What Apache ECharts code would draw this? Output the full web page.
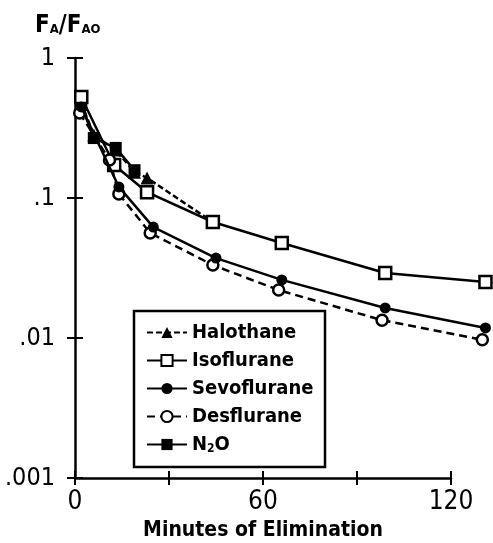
<!DOCTYPE html>
<html><head><meta charset="utf-8">
<script src="https://cdn.jsdelivr.net/npm/echarts@6/dist/echarts.min.js"></script>
<style>html,body{margin:0;padding:0;background:#fff}#c{width:493px;height:543px}</style>
</head><body><div id="c"></div>
<script>
const FONT = '"Liberation Sans Narrow","DejaVu Sans Condensed","Roboto Condensed",sans-serif';

const seriesNames = ['Halothane', 'Isoflurane', 'Sevoflurane', 'Desflurane', 'N2O'];

const halothaneT = [2, 6, 13, 19, 23, 44];
const halothaneV = [0.477, 0.282, 0.22, 0.153, 0.139, 0.0674];

const isofluraneT = [2, 12.5, 23, 44, 66, 99, 131];
const isofluraneV = [0.526, 0.172, 0.11, 0.0674, 0.0477, 0.0291, 0.0251];

const sevofluraneT = [2, 14, 25, 45, 66, 99, 131];
const sevofluraneV = [0.447, 0.12, 0.062, 0.0372, 0.026, 0.0164, 0.0118];

const desfluraneT = [1.5, 11, 14, 24, 44, 65, 98, 130];
const desfluraneV = [0.405, 0.187, 0.107, 0.0562, 0.0332, 0.022, 0.0134, 0.0097];

const n2oT = [2, 6, 13, 19];
const n2oV = [0.462, 0.268, 0.228, 0.158];

const yTickLabels = {1: '1', 0.1: '.1', 0.01: '.01', 0.001: '.001'};
const xTickLabels = {0: '0', 60: '60', 120: '120'};
const xAxisMax = 120;      // drawn axis end
const xDataMax = 132;      // data extends past the drawn axis end

function pairs(t, v) { return t.map((x, i) => [x, v[i]]); }

const chart = echarts.init(document.getElementById('c'), null, {renderer: 'canvas'});

const LEFT = 75, TOP = 58, BOTTOM = 65, AXIS_W = 376;
const DATA_W = AXIS_W * xDataMax / xAxisMax;

const lineBase = {type: 'line', clip: false, xAxisIndex: 2, yAxisIndex: 2, animation: false};

const halData = pairs(halothaneT, halothaneV);
halData[halData.length - 1] = {value: halData[halData.length - 1], symbol: 'none'};

const yLabelFmt = v => { const k = Object.keys(yTickLabels).find(key => Math.abs(Number(key) - v) < v * 1e-6); return k !== undefined ? yTickLabels[k] : ''; };

const option = {
  backgroundColor: '#fff',
  animation: false,
  grid: [
    {left: LEFT, top: TOP, bottom: BOTTOM, width: AXIS_W, containLabel: false, outerBoundsMode: 'none'},
    {left: LEFT, top: TOP, bottom: BOTTOM, width: DATA_W, containLabel: false, outerBoundsMode: 'none'}
  ],
  xAxis: [{
    gridIndex: 0, type: 'value', min: 0, max: xAxisMax, interval: 30,
    axisLine: {show: true, onZero: false, lineStyle: {color: '#000', width: 2.5}},
    axisTick: {show: true, length: 7, lineStyle: {color: '#000', width: 2}},
    splitLine: {show: false},
    axisLabel: {color: '#000', fontFamily: FONT, fontSize: 26, margin: 11,
      formatter: v => xTickLabels[v] !== undefined ? xTickLabels[v] : ''},
    name: 'Minutes of Elimination', nameLocation: 'middle', nameGap: 42,
    nameTextStyle: {color: '#000', fontFamily: FONT, fontSize: 21, fontWeight: 'bold'}
  }, {
    gridIndex: 0, type: 'value', min: 0, max: xAxisMax, interval: 30, position: 'bottom',
    axisLine: {show: false},
    axisTick: {show: true, inside: true, length: 7, lineStyle: {color: '#000', width: 2}},
    axisLabel: {show: false}, splitLine: {show: false}
  }, {
    gridIndex: 1, type: 'value', min: 0, max: xDataMax, show: false
  }],
  yAxis: [{
    gridIndex: 0, type: 'log', logBase: 10, min: 0.001, max: 1,
    axisLine: {show: true, onZero: false, lineStyle: {color: '#000', width: 2.5}},
    axisTick: {show: true, length: 8, lineStyle: {color: '#000', width: 2}},
    minorTick: {show: false},
    splitLine: {show: false},
    axisLabel: {color: '#000', fontFamily: FONT, fontSize: 25, margin: 20, formatter: yLabelFmt}
  }, {
    gridIndex: 0, type: 'log', logBase: 10, min: 0.001, max: 1, position: 'left',
    axisLine: {show: false},
    axisTick: {show: true, inside: true, length: 8, lineStyle: {color: '#000', width: 2}},
    axisLabel: {show: false}, splitLine: {show: false}
  }, {
    gridIndex: 1, type: 'log', logBase: 10, min: 0.001, max: 1, show: false
  }],
  legend: {
    orient: 'vertical', left: 146, top: 322,
    itemWidth: 40, itemHeight: 14, itemGap: 7, padding: 0,
    data: seriesNames,
    textStyle: {color: '#000', fontFamily: FONT, fontSize: 20, fontWeight: 'bold', lineHeight: 21,
      rich: {sub: {fontSize: 12, fontFamily: FONT, fontWeight: 'bold', color: '#000', verticalAlign: 'bottom', lineHeight: 21}}},
    formatter: n => n === 'N2O' ? 'N{sub|2}O' : n
  },
  graphic: [
    {type: 'rect', shape: {x: 134, y: 311, width: 191, height: 156}, style: {fill: null, stroke: '#000', lineWidth: 2.5}, z: 100},
    {type: 'text', left: 35, top: 14, style: {
      text: '{b|F}{s|A}{b|/F}{s|AO}',
      rich: {
        b: {fontFamily: FONT, fontSize: 24, fontWeight: 'bold', fill: '#000', verticalAlign: 'bottom'},
        s: {fontFamily: FONT, fontSize: 13, fontWeight: 'bold', fill: '#000', verticalAlign: 'bottom', padding: [0, 0, 2, 0]}
      }
    }}
  ],
  series: [
    Object.assign({}, lineBase, {name: 'Halothane', data: halData, symbol: 'triangle', symbolSize: 13,
      itemStyle: {color: '#000'}, lineStyle: {color: '#000', width: 2.5, type: [6, 3]}, z: 3}),
    Object.assign({}, lineBase, {name: 'Isoflurane', data: pairs(isofluraneT, isofluraneV), symbol: 'rect', symbolSize: 12,
      itemStyle: {color: '#fff', borderColor: '#000', borderWidth: 2.5}, lineStyle: {color: '#000', width: 2.5}, z: 4}),
    Object.assign({}, lineBase, {name: 'Sevoflurane', data: pairs(sevofluraneT, sevofluraneV), symbol: 'circle', symbolSize: 11,
      itemStyle: {color: '#000'}, lineStyle: {color: '#000', width: 2.5}, z: 5}),
    Object.assign({}, lineBase, {name: 'Desflurane', data: pairs(desfluraneT, desfluraneV), symbol: 'circle', symbolSize: 11,
      itemStyle: {color: '#fff', borderColor: '#000', borderWidth: 2.5}, lineStyle: {color: '#000', width: 2.5, type: [8, 5]}, z: 4}),
    Object.assign({}, lineBase, {name: 'N2O', data: pairs(n2oT, n2oV), symbol: 'rect', symbolSize: 12,
      itemStyle: {color: '#000'}, lineStyle: {color: '#000', width: 2.5}, z: 3})
  ]
};
chart.setOption(option);
</script>
</body></html>
